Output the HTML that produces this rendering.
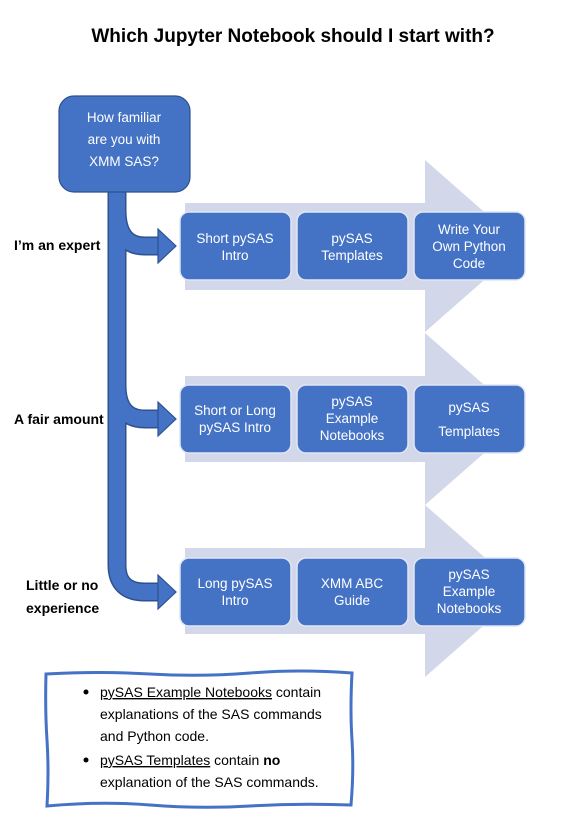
<!DOCTYPE html>
<html><head><meta charset="utf-8"><style>
body{margin:0;background:#fff;width:566px;height:832px;overflow:hidden;font-family:"Liberation Sans",Arial,sans-serif}
</style></head><body>
<svg width="566" height="832" xmlns="http://www.w3.org/2000/svg" font-family="Liberation Sans, Arial, sans-serif">
<text x="293" y="42" text-anchor="middle" font-size="19" font-weight="bold" fill="#000">Which Jupyter Notebook should I start with?</text>
<g fill="#d2d7ea">
<polygon points="185,203 425,203 425,160 523,246 425,332 425,290 185,290"/>
<polygon points="185,376 425,376 425,333 523,419 425,505 425,462 185,462"/>
<polygon points="185,548 425,548 425,505 523,591 425,677 425,634 185,634"/>
</g>
<g fill="none" stroke-linejoin="round">
<path d="M117,190 V565 Q117,592 145,592 H160" stroke="#2f528f" stroke-width="19"/>
<path d="M117,210 Q117,246 145,246 H160 M117,385 Q117,419 145,419 H160" stroke="#2f528f" stroke-width="19"/>
<path d="M117,190 V565 Q117,592 145,592 H162" stroke="#4472c4" stroke-width="16"/>
<path d="M117,210 Q117,246 145,246 H162 M117,385 Q117,419 145,419 H162" stroke="#4472c4" stroke-width="16"/>
</g>
<g fill="#4472c4" stroke="#2f528f" stroke-width="1.2">
<polygon points="158,229 176,246 158,263"/>
<polygon points="158,402 176,419 158,436"/>
<polygon points="158,575 176,592 158,609"/>
<rect x="59" y="96" width="131" height="96" rx="15"/>
</g>
<g fill="#4472c4" stroke="#dfe6f5" stroke-width="1.5">
<rect x="180" y="212" width="111" height="68" rx="9"/><rect x="297" y="212" width="111" height="68" rx="9"/><rect x="414" y="212" width="111" height="68" rx="9"/>
<rect x="180" y="385" width="111" height="68" rx="9"/><rect x="297" y="385" width="111" height="68" rx="9"/><rect x="414" y="385" width="111" height="68" rx="9"/>
<rect x="180" y="558" width="111" height="68" rx="9"/><rect x="297" y="558" width="111" height="68" rx="9"/><rect x="414" y="558" width="111" height="68" rx="9"/>
</g>
<g fill="#fff" font-size="13.5" text-anchor="middle">
<text x="124" y="122">How familiar</text><text x="124" y="144">are you with</text><text x="124" y="166">XMM SAS?</text>
<text x="235" y="243">Short pySAS</text><text x="235" y="260">Intro</text>
<text x="352" y="243">pySAS</text><text x="352" y="260">Templates</text>
<text x="469" y="234">Write Your</text><text x="469" y="251">Own Python</text><text x="469" y="268">Code</text>
<text x="235" y="415">Short or Long</text><text x="235" y="432">pySAS Intro</text>
<text x="352" y="406">pySAS</text><text x="352" y="423">Example</text><text x="352" y="440">Notebooks</text>
<text x="469" y="412">pySAS</text><text x="469" y="436">Templates</text>
<text x="235" y="588">Long pySAS</text><text x="235" y="605">Intro</text>
<text x="352" y="588">XMM ABC</text><text x="352" y="605">Guide</text>
<text x="469" y="579">pySAS</text><text x="469" y="596">Example</text><text x="469" y="613">Notebooks</text>
</g>
<g font-size="14" font-weight="bold" fill="#000">
<text x="14" y="250">I’m an expert</text>
<text x="14" y="424">A fair amount</text>
<text x="26" y="590">Little or no</text>
<text x="26" y="613">experience</text>
</g>
<path d="M46,674 Q100,671 150,674 T250,673 T352,673 Q350,710 352,740 T351,805 Q300,803 250,806 T150,805 T47,806 Q49,770 47,740 T46,674 Z" fill="#fff" stroke="#4472c4" stroke-width="3"/>
<g font-size="14" fill="#000">
<circle cx="86" cy="692" r="2.5"/><circle cx="86" cy="760" r="2.5"/>
<text x="100" y="697"><tspan text-decoration="underline">pySAS Example Notebooks</tspan> contain</text>
<text x="100" y="719">explanations of the SAS commands</text>
<text x="100" y="741">and Python code.</text>
<text x="100" y="765"><tspan text-decoration="underline">pySAS Templates</tspan> contain <tspan font-weight="bold">no</tspan></text>
<text x="100" y="787">explanation of the SAS commands.</text>
</g>
</svg>
</body></html>
